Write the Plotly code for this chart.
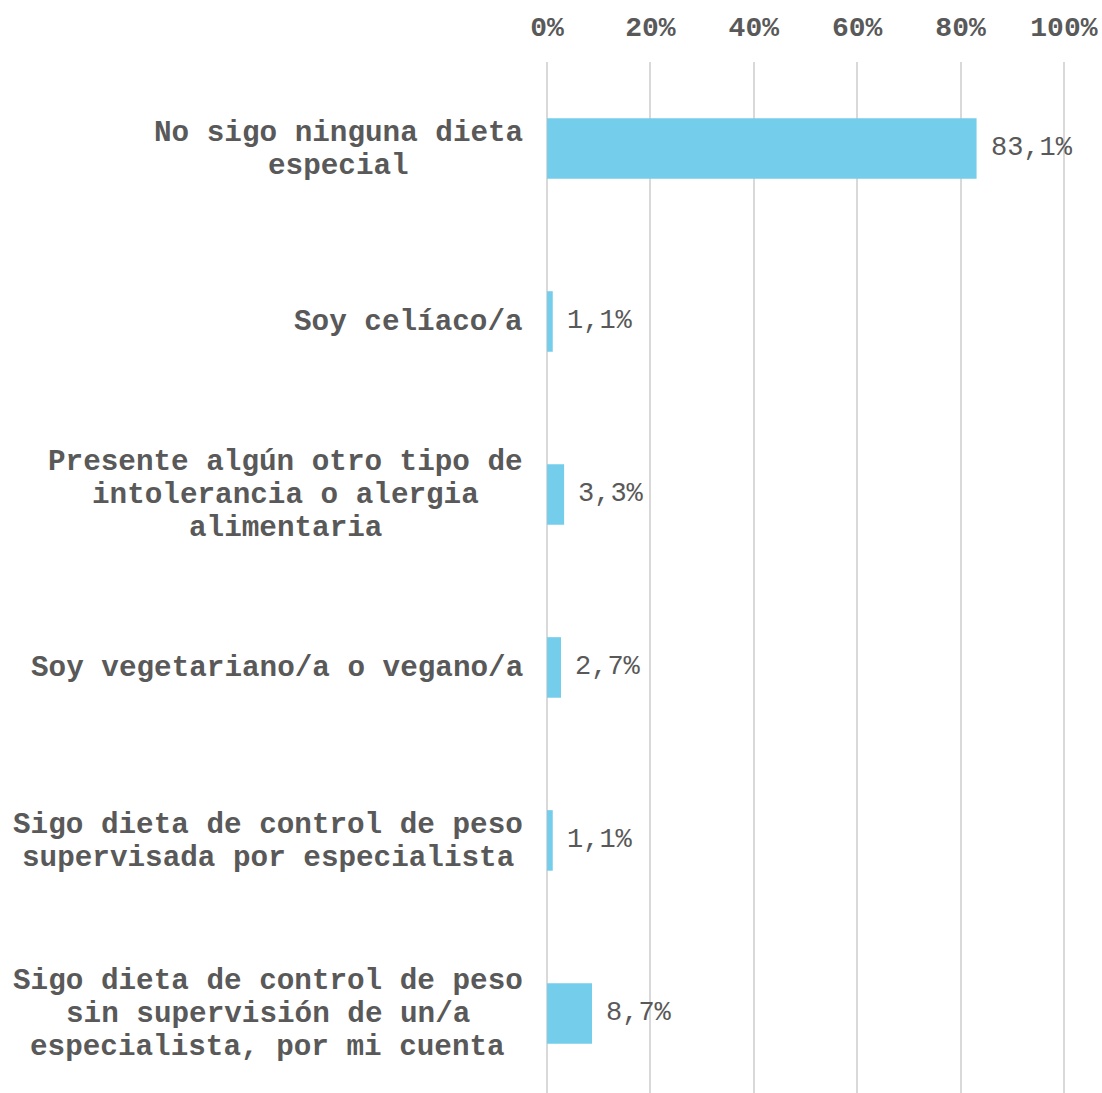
import plotly.graph_objects as go

# Survey categories (multi-line labels split with <br>) and their shares in %
categories = [
    "No sigo ninguna dieta<br>especial",
    "Soy celíaco/a",
    "Presente algún otro tipo de<br>intolerancia o alergia<br>alimentaria",
    "Soy vegetariano/a o vegano/a",
    "Sigo dieta de control de peso<br>supervisada por especialista",
    "Sigo dieta de control de peso<br>sin supervisión de un/a<br>especialista, por mi cuenta",
]
values = [83.1, 1.1, 3.3, 2.7, 1.1, 8.7]
x_ticks = [0, 20, 40, 60, 80, 100]
x_tick_labels = ["0%", "20%", "40%", "60%", "80%", "100%"]

BAR_COLOR = "#74CDEB"
TEXT_COLOR = "#595959"
GRID_COLOR = "#D9D9D9"
LABEL_FONT = "Liberation Mono, Courier New, monospace"
LABEL_SIZE = 29.3
CHAR_W = 0.6 * LABEL_SIZE  # monospace advance width
LINE_GAP = 33  # pixel distance between lines of a wrapped category label
LABEL_PAD = 20  # gap between label block and the plot area

positions = list(range(len(categories)))

fig = go.Figure()
fig.add_trace(go.Bar(
    x=values,
    y=positions,
    orientation="h",
    width=0.35,
    marker=dict(color=BAR_COLOR, line=dict(width=0)),
    hoverinfo="skip",
))

annotations = []
# Category labels: one annotation per line, lines centred on the widest one
for pos, label in zip(positions, categories):
    lines = label.split("<br>")
    n = len(lines)
    widest = max(len(l) for l in lines)
    for i, line in enumerate(lines):
        annotations.append(dict(
            x=0, xref="paper", xanchor="right",
            xshift=-LABEL_PAD - (widest - len(line)) / 2 * CHAR_W,
            y=pos, yref="y", yanchor="middle",
            yshift=-(i - (n - 1) / 2) * LINE_GAP - 1.5,
            text="<b>" + line + "</b>",
            showarrow=False, align="center",
            font=dict(family=LABEL_FONT, size=LABEL_SIZE, color=TEXT_COLOR),
        ))

# Value labels to the right of each bar
for pos, val in zip(positions, values):
    annotations.append(dict(
        x=val, xref="x", xanchor="left", xshift=12,
        y=pos, yref="y", yanchor="middle",
        text=f"{val:.1f}%".replace(".", ","),
        showarrow=False,
        font=dict(family=LABEL_FONT, size=27, color=TEXT_COLOR),
    ))

fig.update_layout(
    width=1102, height=1093,
    margin=dict(l=545, r=36, t=62, b=0),
    paper_bgcolor="white", plot_bgcolor="white",
    showlegend=False,
    annotations=annotations,
    xaxis=dict(
        side="top", range=[-0.4, 100.4],
        tickvals=x_ticks, ticktext=x_tick_labels,
        showgrid=True, gridcolor=GRID_COLOR, gridwidth=2,
        zeroline=True, zerolinecolor=GRID_COLOR, zerolinewidth=2,
        showline=False, ticks="",
        ticklabelstandoff=19,
        tickfont=dict(family=LABEL_FONT, size=28, color=TEXT_COLOR, weight="bold"),
    ),
    yaxis=dict(
        range=[5.46, -0.5],
        showticklabels=False, showgrid=False, zeroline=False, showline=False,
    ),
)

fig.write_html("out.html")
